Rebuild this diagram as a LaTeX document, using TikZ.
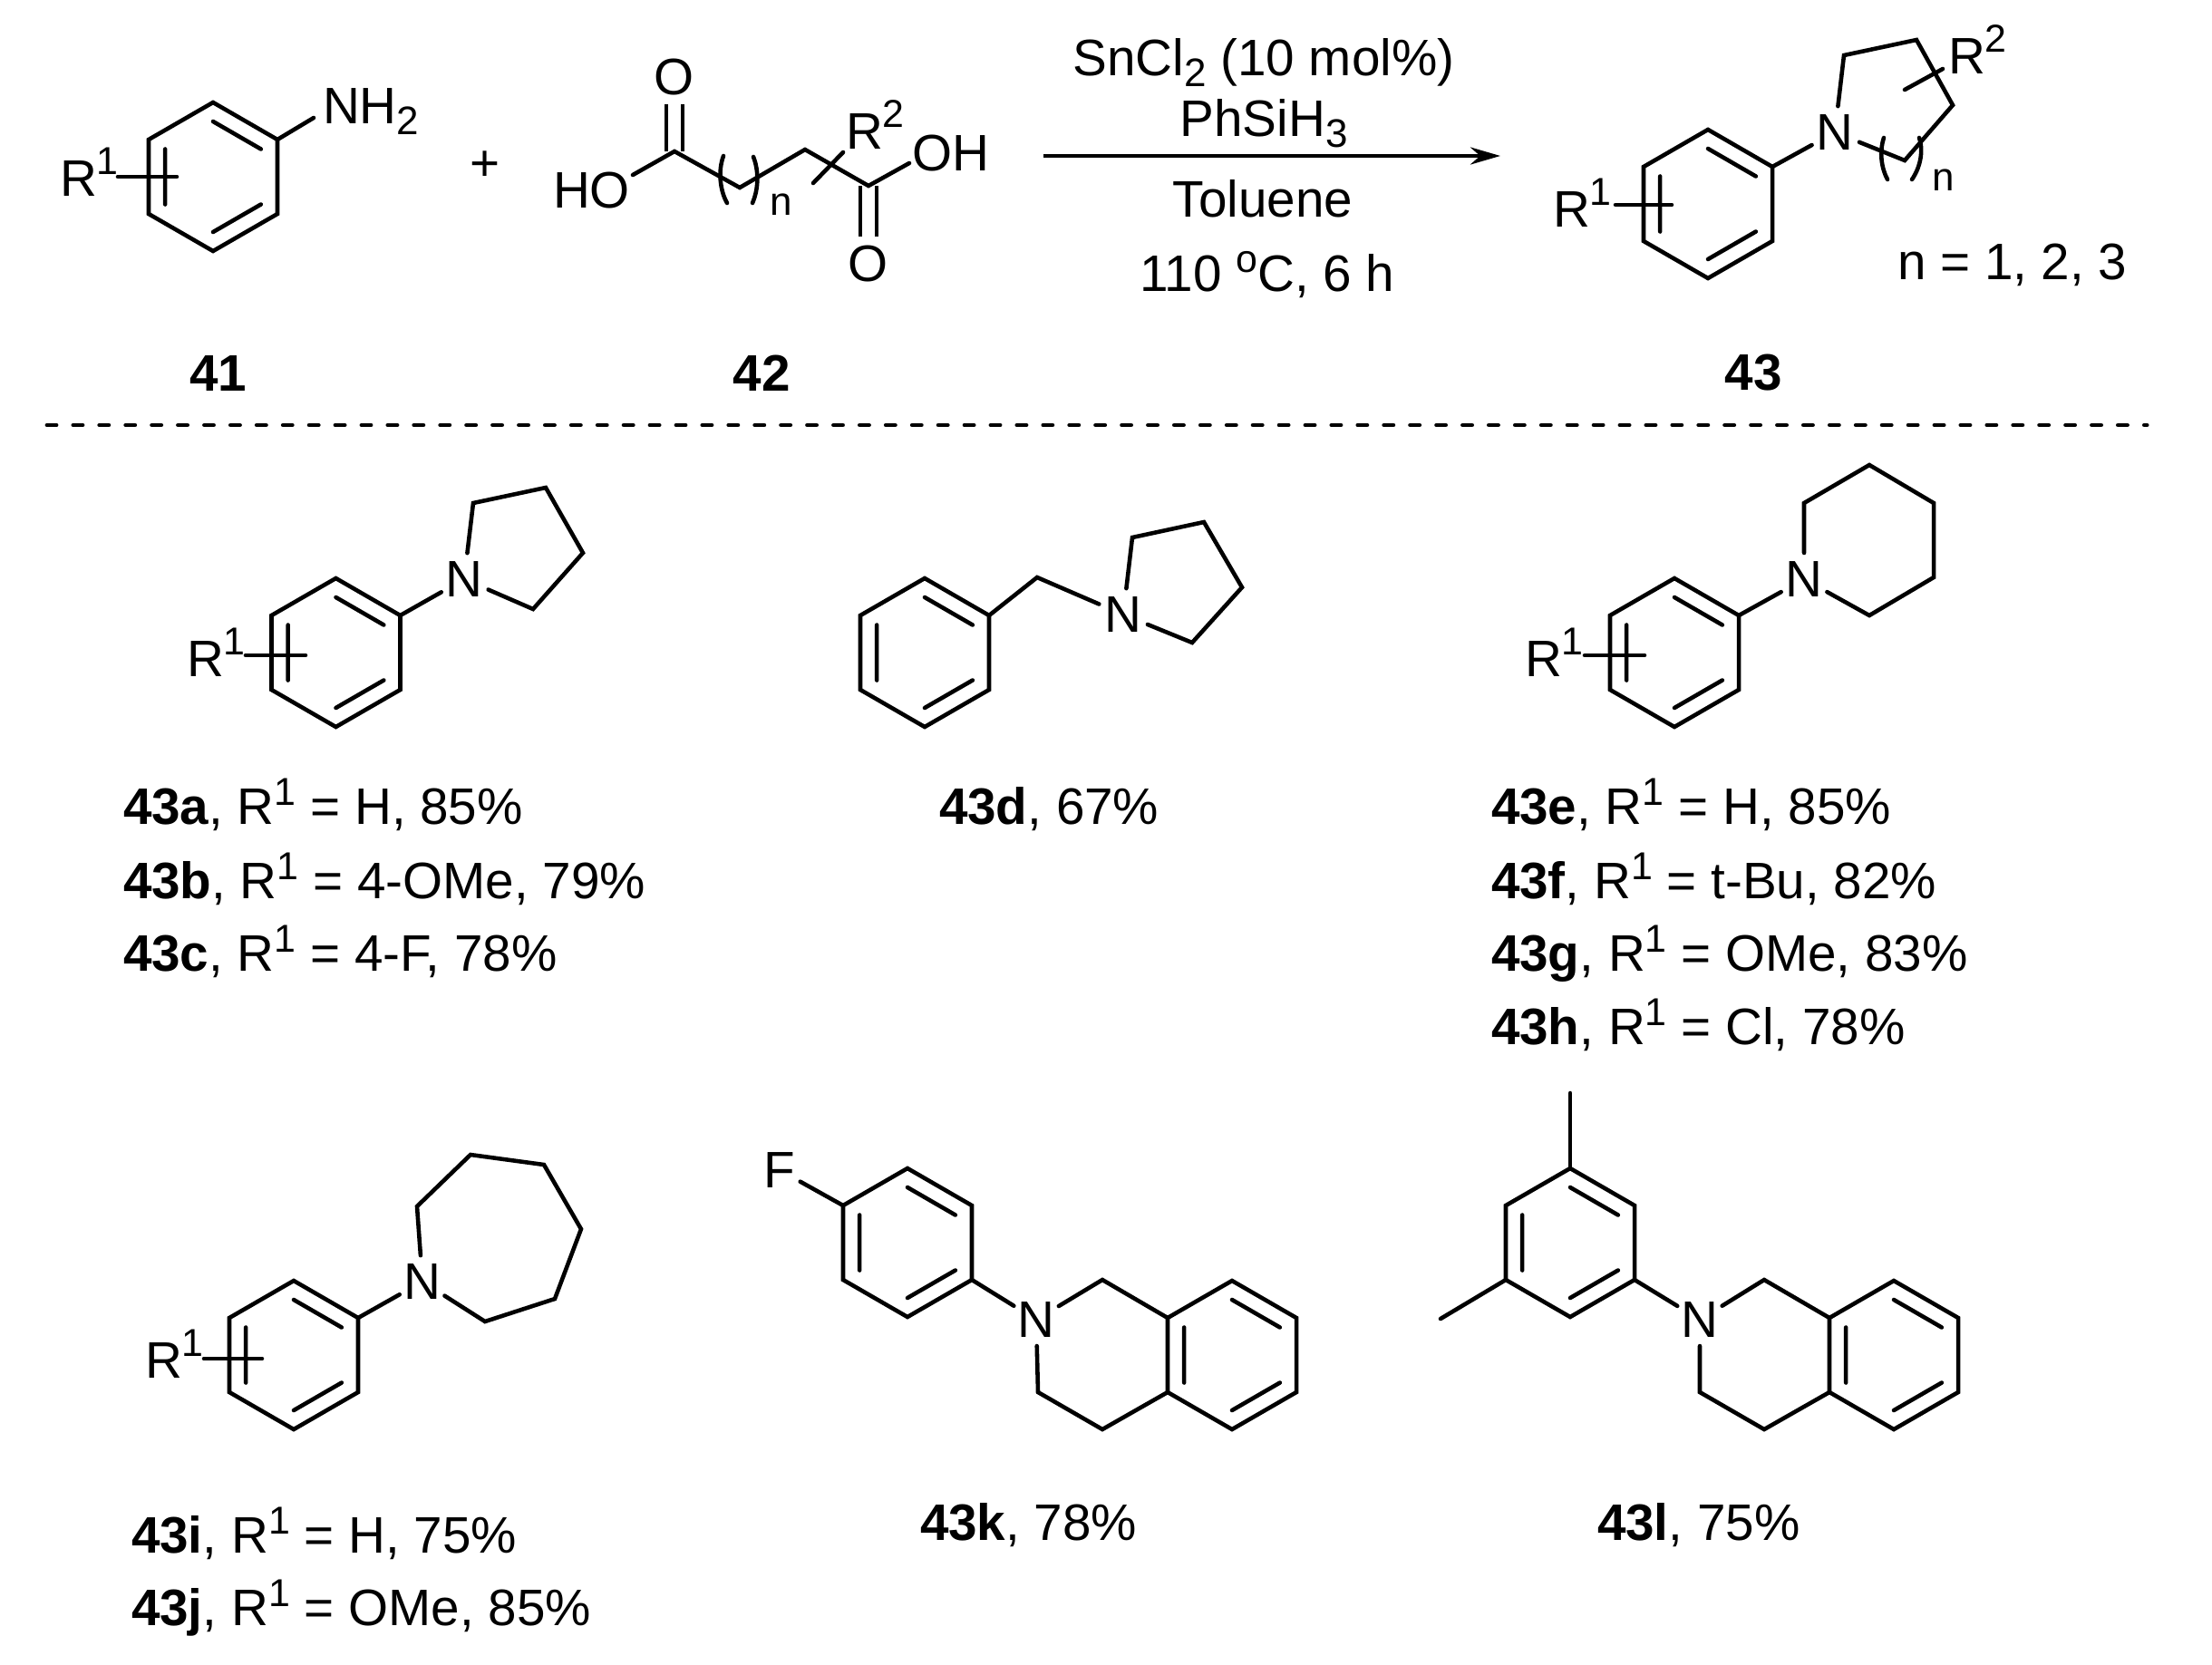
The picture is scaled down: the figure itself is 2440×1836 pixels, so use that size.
\documentclass[tikz,border=0pt]{standalone}
\usepackage{fontspec}
\setmainfont{Liberation Sans}
\usetikzlibrary{arrows.meta}
\newcommand{\supr}[2][5.7pt]{\raisebox{#1}{\fontsize{12.2}{14}\selectfont #2}}
\newcommand{\subr}[1]{\raisebox{-3.6pt}{\fontsize{12.5}{14}\selectfont #1}}

\begin{document}
\begin{tikzpicture}[x=0.01cm, y=-0.01cm,
	every node/.style={font=\fontsize{16.1}{19}\selectfont},
	bond/.style={line width=1.3pt, line cap=round},
	dblbond/.style={line width=1.3pt, double, double distance=0.134cm},
	txt/.style={anchor=base west, inner sep=0pt, outer sep=0pt},
	ctxt/.style={anchor=base, inner sep=0pt, outer sep=0pt},
	atom/.style={circle, inner sep=0pt, outer sep=0pt, minimum size=0.58cm},
	small/.style={txt, font=\fontsize{12.5}{14}\selectfont},
	benzring/.pic={
		\coordinate (-t) at (-90:82);
		\coordinate (-ur) at (-30:82);
		\coordinate (-lr) at (30:82);
		\coordinate (-b) at (90:82);
		\coordinate (-ll) at (150:82);
		\coordinate (-ul) at (210:82);
		\draw[bond] (-t) -- (-ur) -- (-lr) -- (-b) -- (-ll) -- (-ul) -- cycle;
		\draw[bond] (-90:61) -- (-30:61) (30:61) -- (90:61) (150:61) -- (210:61);
	}]
	\useasboundingbox (0,0) rectangle (2440,1836);

	% reactants
	\pic (r41) at (235,195) {benzring};
	\node[txt] (rone41) at (66,216) {R\supr[6.8pt]{1}};
	\node[txt] (nh2) at (356,136) {NH\subr{2}};
	\coordinate (nh2end) at (346,130);
	\coordinate (s41a) at (130,195);
	\coordinate (s41b) at (195,195);
	\draw[bond] (r41-ur) -- (nh2end);
	\draw[bond] (s41a) -- (s41b);
	\node (plus) at (535,183) {+};
	\node[ctxt] (l41) at (241,431) {\textbf{41}};

	\node[atom] (o1) at (744,85) {O};
	\node[atom] (o2) at (958,291) {O};
	\coordinate (c1) at (744,167);
	\coordinate (c2) at (816,207);
	\coordinate (c3) at (888,165);
	\coordinate (c4) at (958,205);
	\coordinate (hoend) at (698,193);
	\coordinate (ohend) at (1003,180);
	\coordinate (xa) at (897,202);
	\coordinate (xb) at (930,168);
	\draw[dblbond] (c1) -- (o1);
	\draw[dblbond] (c4) -- (o2);
	\draw[bond] (hoend) -- (c1) -- (c2) -- (c3) -- (c4) -- (ohend);
	\draw[bond] (xa) -- (xb);
	\draw[bond] (798,172) .. controls (792,188) and (794,210) .. (802,224);
	\draw[bond] (831,173) .. controls (837,188) and (837,208) .. (830,224);
	\node[small] (n42) at (849,237) {n};
	\node[txt] (ho) at (610,229) {HO};
	\node[txt] (oh) at (1006,188) {OH};
	\node[txt] (rtwo42) at (933,164) {R\supr[6.8pt]{2}};
	\node[ctxt] (l42) at (840,431) {\textbf{42}};

	% arrow and conditions
	\coordinate (arra) at (1151,172);
	\coordinate (arrb) at (1655,172);
	\draw[line width=1.3pt, -{Stealth[length=0.33cm,width=0.19cm]}] (arra) -- (arrb);
	\node[ctxt] (cat) at (1394,83) {SnCl\subr{2} (10 mol\%)};
	\node[ctxt] (silane) at (1394,150) {PhSiH\subr{3}};
	\node[ctxt] (solv) at (1393,239) {Toluene};
	\node[ctxt] (temp) at (1398,321) {110 \supr{o}C, 6 h};

	% product
	\pic (r43) at (1884,225) {benzring};
	\node[atom] (n43) at (2024,146) {N};
	\coordinate (p1) at (2034,61);
	\coordinate (p2) at (2114,44);
	\coordinate (p3) at (2154,116);
	\coordinate (p4) at (2101,177);
	\coordinate (s43a) at (1782,226);
	\coordinate (s43b) at (1844,226);
	\coordinate (ya) at (2101,99);
	\coordinate (yb) at (2143,76);
	\draw[bond] (r43-ur) -- (n43);
	\draw[bond] (n43) -- (p1) -- (p2) -- (p3) -- (p4) -- (n43);
	\draw[bond] (s43a) -- (s43b);
	\draw[bond] (ya) -- (yb);
	\draw[bond] (2078,152) .. controls (2073,167) and (2075,185) .. (2082,198);
	\draw[bond] (2117,152) .. controls (2122,167) and (2118,185) .. (2109,198);
	\node[small] (n43n) at (2131,210) {n};
	\node[txt] (rone43) at (1713,250) {R\supr[6.8pt]{1}};
	\node[txt] (rtwo43) at (2149,81) {R\supr[6.8pt]{2}};
	\node[txt] (nvals) at (2093,308) {n = 1, 2, 3};
	\node[ctxt] (l43) at (1934,430) {\textbf{43}};

	\coordinate (dasha) at (52,469);
	\coordinate (dashb) at (2368,469);
	\draw[line width=1.4pt, line cap=round, dash pattern=on 0.1cm off 0.189cm] (dasha) -- (dashb);

	% 43a-c
	\pic (ra) at (370.5,720) {benzring};
	\node[atom] (na) at (512,639) {N};
	\coordinate (a1) at (522,555);
	\coordinate (a2) at (602,538);
	\coordinate (a3) at (643,610);
	\coordinate (a4) at (588,672);
	\coordinate (sa1) at (271,723);
	\coordinate (sa2) at (337,723);
	\draw[bond] (ra-ur) -- (na);
	\draw[bond] (na) -- (a1) -- (a2) -- (a3) -- (a4) -- (na);
	\draw[bond] (sa1) -- (sa2);
	\node[txt] (ronea) at (206,746) {R\supr[6.8pt]{1}};
	\node[txt] (la) at (136,909) {\textbf{43a}, R\supr{1} = H, 85\%};
	\node[txt] (lb) at (136,991) {\textbf{43b}, R\supr{1} = 4-OMe, 79\%};
	\node[txt] (lc) at (136,1071) {\textbf{43c}, R\supr{1} = 4-F, 78\%};

	% 43d
	\pic (rd) at (1020,720) {benzring};
	\coordinate (ch2) at (1144,637);
	\node[atom] (nd) at (1239,678) {N};
	\coordinate (d1) at (1249,593);
	\coordinate (d2) at (1328,576);
	\coordinate (d3) at (1370,648);
	\coordinate (d4) at (1315,709);
	\draw[bond] (rd-ur) -- (ch2) -- (nd);
	\draw[bond] (nd) -- (d1) -- (d2) -- (d3) -- (d4) -- (nd);
	\node[txt] (ld) at (1036,909) {\textbf{43d}, 67\%};

	% 43e-h
	\pic (re) at (1847,720) {benzring};
	\node[atom] (ne) at (1990,639) {N};
	\coordinate (e1) at (1990,555);
	\coordinate (e2) at (2062,513);
	\coordinate (e3) at (2133,555);
	\coordinate (e4) at (2133,637);
	\coordinate (e5) at (2062,679);
	\coordinate (se1) at (1748,723);
	\coordinate (se2) at (1814,723);
	\draw[bond] (re-ur) -- (ne);
	\draw[bond] (ne) -- (e1) -- (e2) -- (e3) -- (e4) -- (e5) -- (ne);
	\draw[bond] (se1) -- (se2);
	\node[txt] (ronee) at (1682,746) {R\supr[6.8pt]{1}};
	\node[txt] (le) at (1645,909) {\textbf{43e}, R\supr{1} = H, 85\%};
	\node[txt] (lf) at (1645,991) {\textbf{43f}, R\supr{1} = t-Bu, 82\%};
	\node[txt] (lg) at (1645,1071) {\textbf{43g}, R\supr{1} = OMe, 83\%};
	\node[txt] (lh) at (1645,1152) {\textbf{43h}, R\supr{1} = Cl, 78\%};

	% 43i-j
	\pic (ri) at (324,1495) {benzring};
	\node[atom] (ni) at (466,1414) {N};
	\coordinate (i1) at (460,1331);
	\coordinate (i2) at (519,1274);
	\coordinate (i3) at (600,1285);
	\coordinate (i4) at (641,1356);
	\coordinate (i5) at (612,1433);
	\coordinate (i6) at (535,1458);
	\coordinate (si1) at (225,1499);
	\coordinate (si2) at (289,1499);
	\draw[bond] (ri-ur) -- (ni);
	\draw[bond] (ni) -- (i1) -- (i2) -- (i3) -- (i4) -- (i5) -- (i6) -- (ni);
	\draw[bond] (si1) -- (si2);
	\node[txt] (ronei) at (160,1520) {R\supr[6.8pt]{1}};
	\node[txt] (li) at (145,1713) {\textbf{43i}, R\supr{1} = H, 75\%};
	\node[txt] (lj) at (145,1793) {\textbf{43j}, R\supr{1} = OMe, 85\%};

	% 43k
	\pic (rk) at (1001,1371) {benzring};
	\pic (rkb) at (1359,1495) {benzring};
	\node[atom, minimum size=0.38cm] (fk) at (860,1291) {F};
	\node[atom] (nk) at (1143,1456) {N};
	\coordinate (k1) at (1216,1412);
	\coordinate (k3) at (1145,1536);
	\coordinate (k4) at (1216,1577);
	\draw[bond] (rk-ul) -- (fk);
	\draw[bond] (rk-lr) -- (nk);
	\draw[bond] (nk) -- (k1) -- (rkb-ul);
	\draw[bond] (nk) -- (k3) -- (k4) -- (rkb-ll);
	\node[txt] (lk) at (1015,1699) {\textbf{43k}, 78\%};

	% 43l
	\pic (rl) at (1732,1371) {benzring};
	\pic (rlb) at (2089,1495) {benzring};
	\coordinate (me1) at (1732,1206);
	\coordinate (me2) at (1589,1455);
	\node[atom] (nl) at (1875,1456) {N};
	\coordinate (l1) at (1946,1412);
	\coordinate (l3) at (1875,1536);
	\coordinate (l4) at (1946,1577);
	\draw[bond] (rl-t) -- (me1);
	\draw[bond] (rl-ll) -- (me2);
	\draw[bond] (rl-lr) -- (nl);
	\draw[bond] (nl) -- (l1) -- (rlb-ul);
	\draw[bond] (nl) -- (l3) -- (l4) -- (rlb-ll);
	\node[txt] (ll) at (1762,1699) {\textbf{43l}, 75\%};
\end{tikzpicture}
\end{document}
